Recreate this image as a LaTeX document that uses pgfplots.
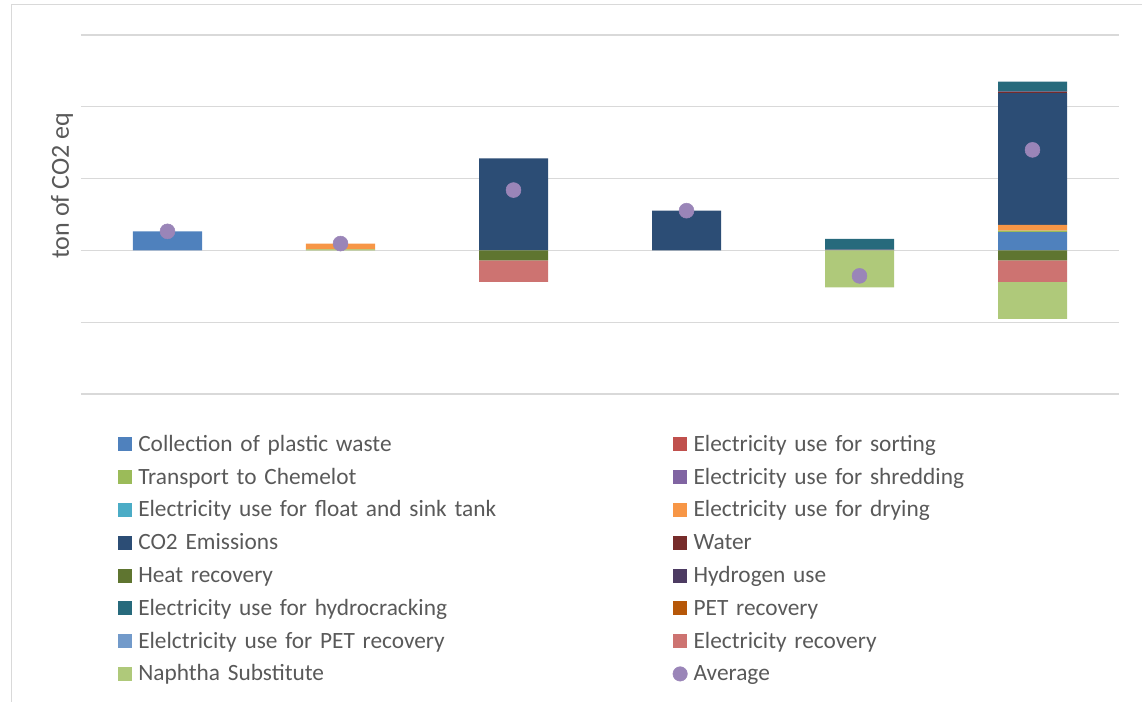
\documentclass[border=0pt]{standalone}
\usepackage{fontspec}
\setmainfont{Carlito}
\usepackage{pgfplots}
\pgfplotsset{compat=1.18}

\definecolor{framegray}{HTML}{D9D9D9}
\definecolor{gridgray}{HTML}{D9D9D9}
\definecolor{textgray}{HTML}{595959}
\definecolor{cCollect}{HTML}{4F81BD}
\definecolor{cSorting}{HTML}{C0504D}
\definecolor{cTransport}{HTML}{9BBB59}
\definecolor{cShredding}{HTML}{8064A2}
\definecolor{cFloat}{HTML}{4BACC6}
\definecolor{cDrying}{HTML}{F79646}
\definecolor{cCOtwo}{HTML}{2C4D75}
\definecolor{cWater}{HTML}{772C2A}
\definecolor{cHeat}{HTML}{5F7530}
\definecolor{cHydrogen}{HTML}{4D3B62}
\definecolor{cHydrocrack}{HTML}{276A7C}
\definecolor{cPET}{HTML}{B65708}
\definecolor{cPETelec}{HTML}{729ACA}
\definecolor{cElecRec}{HTML}{CD7371}
\definecolor{cNaphtha}{HTML}{AFC97A}
\definecolor{cAvg}{HTML}{9A85B8}

\newcommand{\legendfont}{\fontsize{17.5}{21}\selectfont}
\newcommand{\titlefont}{\fontsize{19.5}{23}\selectfont}

\pgfplotsset{
  frame/.style={
    at={(60.75pt,231pt)}, anchor=south west,
    scale only axis, width=778.5pt, height=269.25pt,
    xmin=-0.5, xmax=5.5, ymin=-2, ymax=3,
    xtick=\empty, ytick={-2,-1,0,1,2,3}, yticklabels={},
    major tick length=0pt, axis line style={draw=none},
  },
  barstack/.style={frame, ybar stacked, bar width=51.75pt},
  sq/.style={legend image code/.code={\fill[##1, draw=none] (0pt,-5.25pt) rectangle (10.5pt,5.25pt);}},
}

\begin{document}
\begin{tikzpicture}[x=0.75pt,y=0.75pt]
\path[use as bounding box] (0,0) rectangle (1142,702);
\draw[framegray, line width=0.75pt] (11,0) -- (11,697) -- (1142,697);

% positive contributions, stacked upwards from zero
\begin{axis}[barstack,
  ymajorgrids, grid style={gridgray, line width=1pt},
  ylabel={ton of CO2 eq},
  ylabel style={at={(axis description cs:-0.0183,0.58)}, anchor=center, font=\titlefont, text=textgray},
  legend columns=2,
  legend style={at={(0.0359,-0.1058)}, anchor=north west, draw=none, fill=none,
    inner sep=0pt, outer sep=0pt, row sep=6.1pt, font=\legendfont, text=textgray,
    cells={anchor=west},
    nodes={inner sep=0pt, text width=400.8pt, align=left, text height=14.5pt, text depth=4pt},
    /tikz/every odd column/.append style={column sep=4.5pt}},
]
\addlegendimage{sq, fill=cCollect}     \addlegendentry{Collection of plastic waste}
\addlegendimage{sq, fill=cSorting}     \addlegendentry{Electricity use for sorting}
\addlegendimage{sq, fill=cTransport}   \addlegendentry{Transport to Chemelot}
\addlegendimage{sq, fill=cShredding}   \addlegendentry{Electricity use for shredding}
\addlegendimage{sq, fill=cFloat}       \addlegendentry{Electricity use for float and sink tank}
\addlegendimage{sq, fill=cDrying}      \addlegendentry{Electricity use for drying}
\addlegendimage{sq, fill=cCOtwo}       \addlegendentry{CO2 Emissions}
\addlegendimage{sq, fill=cWater}       \addlegendentry{Water}
\addlegendimage{sq, fill=cHeat}        \addlegendentry{Heat recovery}
\addlegendimage{sq, fill=cHydrogen}    \addlegendentry{Hydrogen use}
\addlegendimage{sq, fill=cHydrocrack}  \addlegendentry{Electricity use for hydrocracking}
\addlegendimage{sq, fill=cPET}         \addlegendentry{PET recovery}
\addlegendimage{sq, fill=cPETelec}     \addlegendentry{Elelctricity use for PET recovery}
\addlegendimage{sq, fill=cElecRec}     \addlegendentry{Electricity recovery}
\addlegendimage{sq, fill=cNaphtha}     \addlegendentry{Naphtha Substitute}
\addlegendimage{legend image code/.code={\fill[cAvg] (5.25pt,0pt) circle (5.4pt);}}
\addlegendentry{Average}

\addplot[forget plot, fill=cCollect, draw=none]    coordinates {(0,0.265) (1,0) (2,0) (3,0) (4,0) (5,0.255)};
\addplot[forget plot, fill=cTransport, draw=none]  coordinates {(0,0) (1,0.015) (2,0) (3,0) (4,0) (5,0.02)};
\addplot[forget plot, fill=cDrying, draw=none]     coordinates {(0,0) (1,0.08) (2,0) (3,0) (4,0) (5,0.08)};
\addplot[forget plot, fill=cCOtwo, draw=none]      coordinates {(0,0) (1,0) (2,1.28) (3,0.553) (4,0) (5,1.835)};
\addplot[forget plot, fill=cWater, draw=none]      coordinates {(0,0) (1,0) (2,0) (3,0) (4,0) (5,0.015)};
\addplot[forget plot, fill=cHydrogen, draw=none]   coordinates {(0,0) (1,0) (2,0) (3,0) (4,0.01) (5,0.01)};
\addplot[forget plot, fill=cHydrocrack, draw=none] coordinates {(0,0) (1,0) (2,0) (3,0) (4,0.15) (5,0.135)};
\end{axis}

% negative contributions, stacked downwards from zero
\begin{axis}[barstack, hide axis]
\addplot[fill=cHeat, draw=none]    coordinates {(0,0) (1,0) (2,-0.14) (3,0) (4,0) (5,-0.14)};
\addplot[fill=cElecRec, draw=none] coordinates {(0,0) (1,0) (2,-0.30) (3,0) (4,0) (5,-0.30)};
\addplot[fill=cNaphtha, draw=none] coordinates {(0,0) (1,0) (2,0) (3,0) (4,-0.515) (5,-0.515)};
\end{axis}

% net result per case
\begin{axis}[frame, hide axis, clip=false]
\addplot[only marks, color=cAvg, mark=*, mark size=5.6pt, mark options={fill=cAvg, draw=cAvg}]
  coordinates {(0,0.265) (1,0.095) (2,0.84) (3,0.553) (4,-0.355) (5,1.40)};
\end{axis}
\end{tikzpicture}
\end{document}
